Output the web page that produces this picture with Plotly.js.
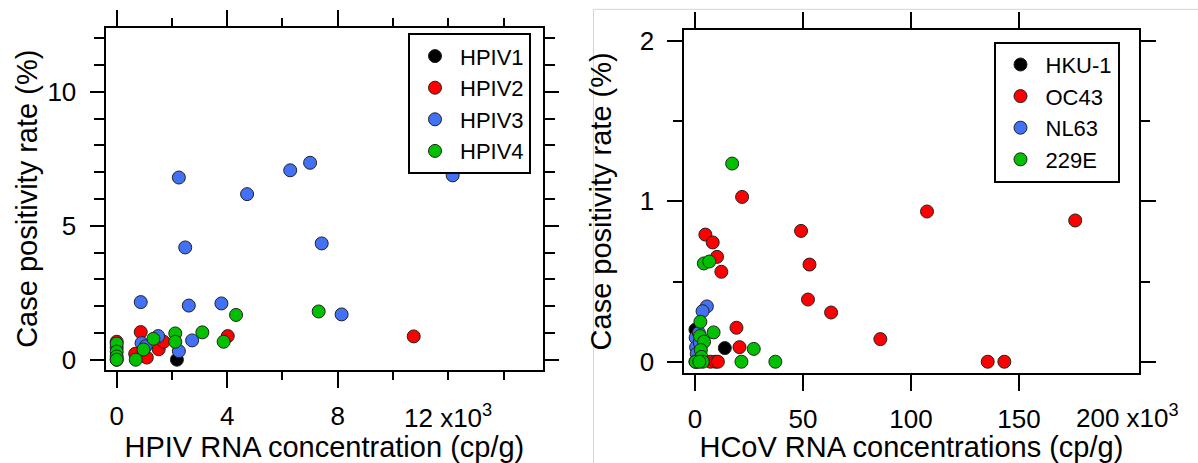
<!DOCTYPE html>
<html>
<head>
<meta charset="utf-8">
<script src="https://cdn.plot.ly/plotly-3.0.1.min.js"></script>
<style>html,body{margin:0;padding:0;background:#fff;}#chart{width:1198px;height:463px;}</style>
</head>
<body>
<div id="chart"></div>
<script>
// ---- Left panel: HPIV (x in thousands cp/g, y in %) ----
const hpiv1X = [2.18, 0.0];
const hpiv1Y = [0.0, 0.0];
const hpiv2X = [10.75, 4.02, 0.87, 0.67, 1.09, 1.52, 1.70, 0.0, 0.0];
const hpiv2Y = [0.87, 0.88, 1.03, 0.22, 0.08, 0.39, 0.67, 0.67, 0.45];
const hpiv3X = [2.25, 6.28, 7.00, 4.72, 12.16, 2.48, 7.42, 0.87, 2.61, 3.79, 8.14, 2.73, 2.25, 1.50, 0.90, 1.05];
const hpiv3Y = [6.80, 7.07, 7.35, 6.18, 6.88, 4.19, 4.34, 2.15, 2.02, 2.10, 1.69, 0.72, 0.32, 0.88, 0.62, 0.50];
const hpiv4X = [4.32, 7.31, 3.10, 3.87, 2.12, 2.12, 1.33, 0.97, 0.69, 0.0, 0.0, 0.0, 0.0];
const hpiv4Y = [1.67, 1.80, 1.02, 0.67, 0.98, 0.67, 0.78, 0.38, 0.00, 0.60, 0.30, 0.12, 0.00];

// ---- Right panel: HCoV (x in thousands cp/g, y in %) ----
const hku1X = [13.8, 0.2, 1.0];
const hku1Y = [0.085, 0.20, 0.0];
const oc43X = [21.8, 107.4, 176.0, 49.1, 4.8, 8.2, 10.2, 12.2, 53.0, 52.3, 63.0, 85.8, 19.2, 20.6, 135.5, 143.2, 7.2, 9.5, 10.6];
const oc43Y = [1.028, 0.937, 0.881, 0.816, 0.793, 0.744, 0.654, 0.561, 0.606, 0.388, 0.307, 0.141, 0.212, 0.091, 0.0, 0.0, 0.0, 0.0, 0.0];
const nl63X = [5.5, 3.5, 0.3, 0.5, 0.8, 1.8, 2.2, 0.2];
const nl63Y = [0.345, 0.315, 0.15, 0.09, 0.05, 0.18, 0.12, 0.0];
const e229X = [17.2, 4.1, 6.6, 8.6, 2.5, 2.3, 4.2, 2.7, 3.0, 27.2, 21.5, 37.2, 0.3, 3.6, 2.0];
const e229Y = [1.236, 0.613, 0.625, 0.183, 0.249, 0.16, 0.125, 0.073, 0.03, 0.08, 0.0, 0.0, 0.0, 0.0, 0.0];

// tick values / labels
const leftLabelTicks = [0, 4, 8];
const leftLabelText = ['0', '4', '8'];
const leftLastTick = [12];
const leftLastLabel = '12 x10<sup>3</sup>';
const rightLabelTicks = [0, 50, 100, 150];
const rightLabelText = ['0', '50', '100', '150'];
const rightLastTick = [200];
const rightLastLabel = '200 x10<sup>3</sup>';
const leftYTicks = [0, 5, 10];
const rightYTicks = [0, 1, 2];

const COLORS = {black: '#000000', red: '#ff0000', blue: '#4271f5', green: '#00c000'};
const FONT = '"Liberation Sans", Arial, Helvetica, sans-serif';
const W = 1198, H = 463;
const px = v => v / W, py = v => 1 - v / H;

function tr(name, x, y, color, xa, ya, leg) {
  return {type: 'scatter', mode: 'markers', name: name, x: x, y: y, xaxis: xa, yaxis: ya, legend: leg,
    marker: {color: color, size: 13, line: {color: '#222', width: 1}}, cliponaxis: false};
}

const data = [
  tr('HPIV1', hpiv1X, hpiv1Y, COLORS.black, 'x', 'y', 'legend'),
  tr('HPIV2', hpiv2X, hpiv2Y, COLORS.red, 'x', 'y', 'legend'),
  tr('HPIV3', hpiv3X, hpiv3Y, COLORS.blue, 'x', 'y', 'legend'),
  tr('HPIV4', hpiv4X, hpiv4Y, COLORS.green, 'x', 'y', 'legend'),
  tr('HKU-1', hku1X, hku1Y, COLORS.black, 'x2', 'y2', 'legend2'),
  tr('OC43', oc43X, oc43Y, COLORS.red, 'x2', 'y2', 'legend2'),
  tr('NL63', nl63X, nl63Y, COLORS.blue, 'x2', 'y2', 'legend2'),
  tr('229E', e229X, e229Y, COLORS.green, 'x2', 'y2', 'legend2')
];

const axBase = {showline: true, linewidth: 2, linecolor: '#000', mirror: 'ticks', ticks: 'outside',
  tickwidth: 2, tickcolor: '#000', showgrid: false, zeroline: false, automargin: false,
  tickfont: {family: FONT, size: 26, color: '#000'}};

const LX = [px(105.5), px(543.3)], LXR = [-0.405, 15.44];
const RX = [px(684.3), px(1138.5)], RXR = [-4.95, 205.3];

const layout = {
  width: W, height: H,
  margin: {l: 0, r: 0, t: 0, b: 0},
  paper_bgcolor: '#fff', plot_bgcolor: '#fff',
  font: {family: FONT, color: '#000'},
  showlegend: true,
  xaxis: Object.assign({}, axBase, {
    domain: LX, range: LXR, anchor: 'y',
    tickmode: 'array', tickvals: leftLabelTicks, ticktext: leftLabelText, ticklen: 16, ticklabelstandoff: 6,
    minor: {tickmode: 'linear', tick0: 0, dtick: 2, ticks: 'outside', ticklen: 8, tickwidth: 2, tickcolor: '#000'},
    title: {text: 'HPIV RNA concentration (cp/g)', font: {family: FONT, size: 29}, standoff: 14}
  }),
  xaxis3: {overlaying: 'x', anchor: 'y', domain: LX, range: LXR, tickmode: 'array', tickvals: leftLastTick,
    showticklabels: false, ticks: 'outside', ticklen: 16, tickwidth: 2, tickcolor: '#000', mirror: 'ticks',
    showline: false, showgrid: false, zeroline: false, automargin: false},
  yaxis: Object.assign({}, axBase, {
    domain: [py(370), py(27.5)], range: [-0.385, 12.40], anchor: 'x',
    tickmode: 'array', tickvals: leftYTicks, ticktext: leftYTicks.map(String), ticklen: 14, ticklabelstandoff: 8,
    minor: {tickmode: 'linear', tick0: 0, dtick: 1, ticks: 'outside', ticklen: 10, tickwidth: 2, tickcolor: '#000'},
    title: {text: 'Case positivity rate (%)', font: {family: FONT, size: 29}, standoff: 1}
  }),
  xaxis2: Object.assign({}, axBase, {
    domain: RX, range: RXR, anchor: 'y2',
    tickmode: 'array', tickvals: rightLabelTicks, ticktext: rightLabelText, ticklen: 16, ticklabelstandoff: 6,
    title: {text: 'HCoV RNA concentrations (cp/g)', font: {family: FONT, size: 29}, standoff: 14}
  }),
  xaxis4: {overlaying: 'x2', anchor: 'y2', domain: RX, range: RXR, tickmode: 'array', tickvals: rightLastTick,
    showticklabels: false, ticks: 'outside', ticklen: 16, tickwidth: 2, tickcolor: '#000', mirror: 'ticks',
    showline: false, showgrid: false, zeroline: false, automargin: false},
  yaxis2: Object.assign({}, axBase, {
    domain: [py(372.7), py(30)], range: [-0.0685, 2.069], anchor: 'x2',
    tickmode: 'array', tickvals: rightYTicks, ticktext: rightYTicks.map(String), ticklen: 15, ticklabelstandoff: 8,
    minor: {tickmode: 'linear', tick0: 0, dtick: 0.5, ticks: 'outside', ticklen: 9, tickwidth: 2, tickcolor: '#000'},
    title: {text: 'Case positivity rate (%)', font: {family: FONT, size: 29}, standoff: 19}
  }),
  legend: {x: px(408), y: py(33.3), xanchor: 'left', yanchor: 'top', bgcolor: '#fff',
    bordercolor: '#000', borderwidth: 2, font: {family: FONT, size: 22}, itemwidth: 40, tracegroupgap: 0},
  legend2: {x: px(993.5), y: py(41.7), xanchor: 'left', yanchor: 'top', bgcolor: '#fff',
    bordercolor: '#000', borderwidth: 2, font: {family: FONT, size: 22}, itemwidth: 40, tracegroupgap: 0},
  annotations: [
    {xref: 'x', yref: 'paper', x: leftLastTick[0], y: py(416), xanchor: 'center', yanchor: 'middle', showarrow: false,
     borderpad: 0, text: leftLastLabel, font: {family: FONT, size: 26}},
    {xref: 'x2', yref: 'paper', x: rightLastTick[0], y: py(416), xanchor: 'center', yanchor: 'middle', showarrow: false,
     borderpad: 0, text: rightLastLabel, font: {family: FONT, size: 26}}
  ],
  shapes: [
    {type: 'line', xref: 'paper', yref: 'paper', x0: px(593.5), x1: px(593.5), y0: 0, y1: py(9.3), line: {color: '#d4d4d4', width: 1}, layer: 'below'},
    {type: 'line', xref: 'paper', yref: 'paper', x0: px(593.5), x1: 1, y0: py(9.3), y1: py(9.3), line: {color: '#d4d4d4', width: 1}, layer: 'below'}
  ]
};

Plotly.newPlot('chart', data, layout, {displayModeBar: false, staticPlot: true});
</script>
</body>
</html>
